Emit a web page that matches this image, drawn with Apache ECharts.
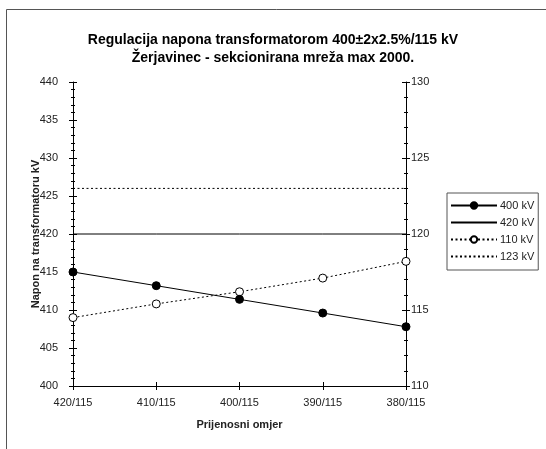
<!DOCTYPE html>
<html>
<head>
<meta charset="utf-8">
<script src="https://cdn.jsdelivr.net/npm/echarts@6/dist/echarts.min.js"></script>
<style>html,body{margin:0;padding:0;background:#fff;}#c{width:546px;height:449px;}</style>
</head>
<body>
<div id="c"></div>
<script>
const titleText = 'Regulacija napona transformatorom 400±2x2.5%/115 kV\nŽerjavinec - sekcionirana mreža max 2000.';
const categories = ['420/115', '410/115', '400/115', '390/115', '380/115'];
const v400 = [415.0, 413.2, 411.4, 409.6, 407.8];
const v420 = [420, 420, 420, 420, 420];
const v110 = [114.5, 115.4, 116.2, 117.1, 118.2];
const v123 = [123, 123, 123, 123, 123];
const leftTicks = { min: 400, max: 440, interval: 5 };
const rightTicks = { min: 110, max: 130, interval: 5 };
const seriesNames = ['400 kV', '420 kV', '110 kV', '123 kV'];
const yName = 'Napon na transformatoru kV';
const xName = 'Prijenosni omjer';

const FONT = 'Liberation Sans, Arial, sans-serif';
const TXT = '#222';
const dotted = [2, 2.5];

const chart = echarts.init(document.getElementById('c'), null, { renderer: 'canvas' });
const grid = { left: 73, right: 140, top: 82, bottom: 63 };

function yAx(pos, t, inside) {
  return {
    type: 'value', position: pos, min: t.min, max: t.max, interval: t.interval,
    name: (!inside && pos === 'left') ? yName : '',
    nameLocation: 'middle', nameGap: 32, nameMoveOverlap: false,
    nameTextStyle: { fontFamily: FONT, fontSize: 11, fontWeight: 'bold', color: TXT },
    axisLine: { show: !inside, lineStyle: { color: '#000', width: 1 } },
    axisTick: { show: true, inside: inside, length: 4, lineStyle: { color: '#000' } },
    minorTick: { show: true, splitNumber: 5, length: 2, lineStyle: { color: '#000' } },
    splitLine: { show: false },
    axisLabel: { show: !inside, fontFamily: FONT, fontSize: 11, color: TXT, margin: pos === 'left' ? 15 : 5 }
  };
}
function xAx(inside) {
  return {
    type: 'category', position: 'bottom', data: categories, boundaryGap: false,
    name: inside ? '' : xName, nameLocation: 'middle', nameGap: 33, nameMoveOverlap: false,
    nameTextStyle: { fontFamily: FONT, fontSize: 11, fontWeight: 'bold', color: TXT },
    axisLine: { show: !inside, onZero: false, lineStyle: { color: '#000', width: 1 } },
    axisTick: { show: true, inside: inside, length: 4, alignWithLabel: true, lineStyle: { color: '#000' } },
    splitLine: { show: false },
    axisLabel: { show: !inside, fontFamily: FONT, fontSize: 11, color: TXT, margin: 11 }
  };
}

const hiddenSym = { itemStyle: { opacity: 0 } };

chart.setOption({
  animation: false,
  backgroundColor: '#fff',
  title: {
    text: titleText, left: 'center', top: 26,
    textStyle: { fontFamily: FONT, fontSize: 14, fontWeight: 'bold', color: '#000', lineHeight: 18 }
  },
  graphic: [{
    type: 'polyline', shape: { points: [[6.5, 449], [6.5, 9.5], [546, 9.5]] },
    style: { stroke: '#555', lineWidth: 1, fill: null }, silent: true
  }],
  legend: {
    orient: 'vertical', left: 447, top: 193,
    padding: [7, 4, 8, 3], itemGap: 6, itemWidth: 46, itemHeight: 8,
    borderColor: '#555', borderWidth: 1, borderRadius: 0,
    textStyle: { fontFamily: FONT, fontSize: 11, color: TXT, padding: [0, 0, 0, -2] },
    data: [
      { name: seriesNames[0] },
      Object.assign({ name: seriesNames[1] }, hiddenSym),
      { name: seriesNames[2] },
      Object.assign({ name: seriesNames[3] }, hiddenSym)
    ]
  },
  grid: grid,
  xAxis: [xAx(false), xAx(true)],
  yAxis: [yAx('left', leftTicks, false), yAx('right', rightTicks, false), yAx('left', leftTicks, true), yAx('right', rightTicks, true)],
  series: [
    { name: seriesNames[0], type: 'line', data: v400, yAxisIndex: 0, symbol: 'circle', symbolSize: 8,
      lineStyle: { color: '#000', width: 1 }, itemStyle: { color: '#000', borderColor: '#000', borderWidth: 1 }, z: 5 },
    { name: seriesNames[1], type: 'line', data: v420, yAxisIndex: 0, symbol: 'none',
      lineStyle: { color: '#000', width: 1 }, itemStyle: { color: 'rgba(0,0,0,0)', borderWidth: 0 } },
    { name: seriesNames[2], type: 'line', data: v110, yAxisIndex: 1, symbol: 'circle', symbolSize: 8,
      lineStyle: { color: '#000', width: 1, type: dotted }, itemStyle: { color: '#fff', borderColor: '#000', borderWidth: 1 }, z: 4 },
    { name: seriesNames[3], type: 'line', data: v123, yAxisIndex: 1, symbol: 'none',
      lineStyle: { color: '#000', width: 1, type: dotted }, itemStyle: { color: 'rgba(0,0,0,0)', borderWidth: 0 } }
  ]
});
</script>
</body>
</html>
